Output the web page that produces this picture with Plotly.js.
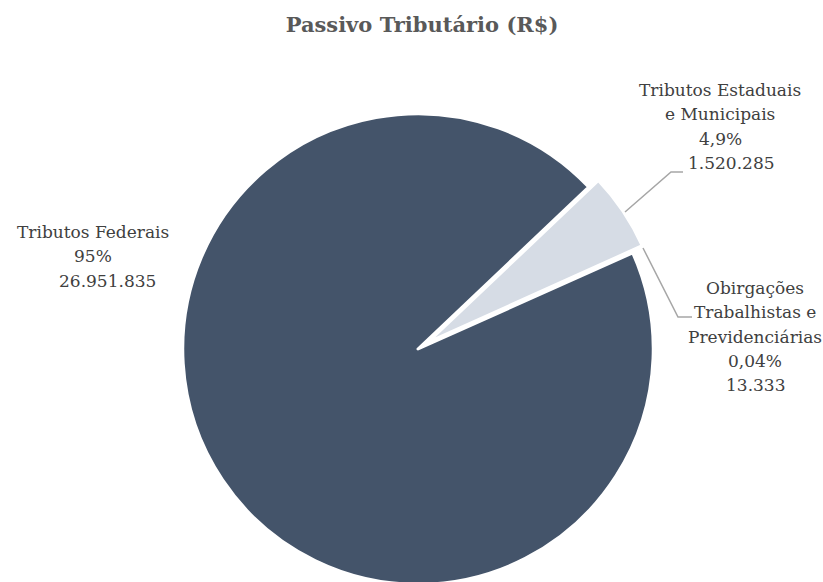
<!DOCTYPE html>
<html>
<head>
<meta charset="utf-8">
<script src="https://cdn.plot.ly/plotly-3.0.1.min.js"></script>
<style>
    html, body { margin: 0; padding: 0; overflow: hidden; background: #fff; }
</style>
</head>
<body>
<div id="grafico"></div>
<script>
// dados do gráfico
const categorias = [
    ['Tributos Estaduais', 'e Municipais'],
    ['Obirgações', 'Trabalhistas e', 'Previdenciárias'],
    ['Tributos Federais']
];
const valores = [1520285, 13333, 26951835];
const percentuais = ['4,9%', '0,04%', '95%'];
const cores = ['#D6DCE5', '#ADB9CA', '#44546A'];
const destaque = [0.05, 0.05, 0];

// layout (px)
const LARGURA = 823;
const ALTURA = 600;
const FONTE = 'DejaVu Serif';
const posRotulos = [[720, 90], [755, 288], [93, 232]];
const deslocValor = [11, 0, 14];
const ALTURA_LINHA = 24.3;
const linhasGuia = [
    [[625, 212], [671, 172], [683, 172]],
    [[643, 248], [678, 317], [692, 317]]
];

function px(x) { return x / LARGURA; }
function py(y) { return 1 - y / ALTURA; }

function formatarNumero(v) {
    return v.toLocaleString('en-US').replace(/,/g, '.');
}

function criarRotulos() {
    const anotacoes = [];
    categorias.forEach((linhas, i) => {
        const todas = linhas.concat([percentuais[i], formatarNumero(valores[i])]);
        const [cx, cy] = posRotulos[i];
        todas.forEach((texto, j) => {
            const ehValor = j === todas.length - 1;
            anotacoes.push({
                text: texto,
                x: px(cx + (ehValor ? deslocValor[i] : 0)),
                y: py(cy + j * ALTURA_LINHA),
                xref: 'paper', yref: 'paper',
                xanchor: 'center', yanchor: 'middle',
                showarrow: false,
                font: { family: FONTE, size: 17, color: '#404040' }
            });
        });
    });
    return anotacoes;
}

function criarLinhasGuia() {
    return linhasGuia.map(pts => ({
        type: 'path',
        xref: 'paper', yref: 'paper',
        path: pts.map((p, k) => (k === 0 ? 'M ' : 'L ') + px(p[0]) + ' ' + py(p[1])).join(' '),
        line: { color: '#A6A6A6', width: 1.5 }
    }));
}

const data = [{
    type: 'pie',
    labels: categorias.map(l => l.join(' ')),
    values: valores,
    sort: false,
    direction: 'clockwise',
    rotation: 46.5,
    pull: destaque,
    marker: { colors: cores, line: { color: '#FFFFFF', width: 3 } },
    textinfo: 'none',
    hoverinfo: 'skip',
    domain: { x: [px(418 - 247), px(418 + 247)], y: [py(349 + 247), py(349 - 247)] }
}];

const layout = {
    width: LARGURA,
    height: ALTURA,
    margin: { l: 0, r: 0, t: 0, b: 0 },
    showlegend: false,
    paper_bgcolor: '#FFFFFF',
    font: { family: FONTE },
    title: {
        text: '<b>Passivo Tributário (R$)</b>',
        font: { family: FONTE, size: 21, color: '#595959' },
        xref: 'paper', x: px(422), xanchor: 'center',
        yref: 'container', y: py(25), yanchor: 'middle'
    },
    annotations: criarRotulos(),
    shapes: criarLinhasGuia()
};

Plotly.newPlot('grafico', data, layout, { displayModeBar: false, staticPlot: true });
</script>
</body>
</html>
